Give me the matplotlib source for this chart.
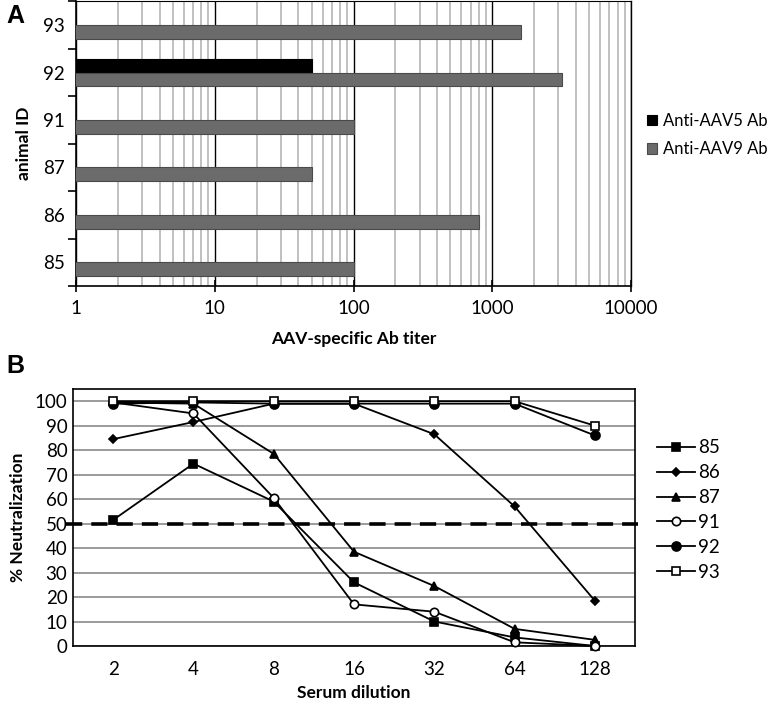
import matplotlib
matplotlib.use("Agg")
import matplotlib.pyplot as plt
import matplotlib.transforms as mtransforms
from matplotlib.ticker import LogLocator, NullFormatter
import numpy as np

plt.rcParams['font.family'] = ['Lato', 'DejaVu Sans']

# ---------- Panel A data ----------
animals = ["85", "86", "87", "91", "92", "93"]
aav5_titer = [0, 0, 0, 0, 50, 0]
aav9_titer = [100, 800, 50, 100, 3200, 1600]

# ---------- Panel B data ----------
dilutions = ["2", "4", "8", "16", "32", "64", "128"]
neut_85 = [51.5, 74.5, 59, 26, 10, 3.5, 0]
neut_86 = [84.5, 91.5, 99, 99, 86.5, 57, 18.5]
neut_87 = [99.5, 99, 78.5, 38.5, 24.5, 7, 2.5]
neut_91 = [99.5, 95, 60.5, 17, 14, 1.5, 0]
neut_92 = [99, 99.5, 99, 99, 99, 99, 86]
neut_93 = [100, 100, 100, 100, 100, 100, 90]

TICK = 13.5
LAB = 12.5
W, H = 771, 703

fig = plt.figure(figsize=(7.71, 7.03), dpi=100)

# ======== Panel A ========
axA = fig.add_axes([0.0986, 0.5932, 0.7198, 0.4048])
ypos = np.arange(len(animals))
h = 0.29
m5 = [v > 0 for v in aav5_titer]
axA.barh(ypos[m5] + h / 2, np.array(aav5_titer)[m5], height=h, left=0,
         color='black', edgecolor='black', linewidth=0.8, label='Anti-AAV5 Ab', zorder=3)
axA.barh(ypos - h / 2, aav9_titer, height=h, left=0,
         color='#6b6b6b', edgecolor='#4a4a4a', linewidth=0.8, label='Anti-AAV9 Ab', zorder=3)
axA.set_xscale('log')
axA.set_xlim(1, 10000)
axA.set_ylim(-0.5, len(animals) - 0.5)
axA.xaxis.set_minor_locator(LogLocator(base=10, subs=np.arange(2, 10), numticks=100))
axA.xaxis.set_minor_formatter(NullFormatter())
axA.set_xticks([1, 10, 100, 1000, 10000])
axA.set_xticklabels(["1", "10", "100", "1000", "10000"])
axA.grid(True, which='major', axis='x', color='black', linewidth=1.0, zorder=1)
axA.grid(True, which='minor', axis='x', color='#b5b5b5', linewidth=1.2, zorder=1)
axA.tick_params(axis='x', which='major', direction='inout', length=8, width=1.2, labelsize=TICK, pad=6)
axA.tick_params(axis='x', which='minor', length=0)
axA.set_yticks(ypos)
axA.set_yticklabels(animals)
axA.set_yticks(np.arange(-0.5, len(animals)), minor=True)
axA.tick_params(axis='y', which='major', length=0, labelsize=TICK, pad=8)
axA.tick_params(axis='y', which='minor', length=6, width=1.2, direction='out')
for s in axA.spines.values():
    s.set_color('black')
    s.set_linewidth(1.2)
axA.spines['right'].set_linewidth(1.0)
axA.spines['top'].set_linewidth(0.8)
axA.set_axisbelow(True)
axA.set_xlabel("AAV-specific Ab titer", fontsize=LAB, fontweight='bold', labelpad=10)
axA.set_ylabel("animal ID", fontsize=LAB, fontweight='bold', labelpad=8)
legA = axA.legend(loc='center left', bbox_to_anchor=(647 / W, 1 - 135 / H),
                  bbox_transform=fig.transFigure, borderpad=0, borderaxespad=0,
                  frameon=False, fontsize=12, handlelength=0.6, handleheight=0.6,
                  handletextpad=0.35, labelspacing=0.75)

fig.text(0.008, 0.977, "A", fontsize=18, fontweight='bold', va='center', ha='left',
         family='Liberation Sans')

# ======== Panel B ========
axB = fig.add_axes([0.0947, 0.0811, 0.7289, 0.3656])
x = np.arange(len(dilutions))
series = [
    ("85", neut_85, 's', 'black', 6),
    ("86", neut_86, 'D', 'black', 3.8),
    ("87", neut_87, '^', 'black', 6),
    ("91", neut_91, 'o', 'white', 6),
    ("92", neut_92, 'o', 'black', 6.5),
    ("93", neut_93, 's', 'white', 6),
]
for name, vals, mk, fc, ms in series:
    axB.plot(x, vals, color='black', linewidth=1.3, marker=mk, markersize=ms,
             markerfacecolor=fc, markeredgecolor='black', markeredgewidth=1.2,
             label=name, zorder=4, clip_on=False)
axB.set_xlim(-0.5, len(dilutions) - 0.5)
axB.set_ylim(0, 105)
axB.set_xticks(x)
axB.set_xticklabels(dilutions)
axB.set_yticks(np.arange(0, 101, 10))
axB.yaxis.grid(True, color='#8a8a8a', linewidth=1.2, zorder=1)
axB.set_axisbelow(True)
axB.tick_params(axis='both', length=0, labelsize=TICK)
axB.tick_params(axis='x', pad=11)
axB.tick_params(axis='y', pad=4)
for s in axB.spines.values():
    s.set_color('black')
    s.set_linewidth(1.2)
trans = mtransforms.blended_transform_factory(axB.transAxes, axB.transData)
axB.plot([-0.012, 1.005], [50, 50], transform=trans, color='black', linewidth=2.6,
         linestyle=(0, (4.5, 2.5)), clip_on=False, zorder=3)
axB.set_xlabel("Serum dilution", fontsize=LAB, fontweight='bold', labelpad=5)
axB.set_ylabel("% Neutralization", fontsize=LAB, fontweight='bold', labelpad=6)
legB = axB.legend(loc='center left', bbox_to_anchor=(657 / W, 1 - 510 / H),
                  bbox_transform=fig.transFigure, borderpad=0, borderaxespad=0,
                  frameon=False, fontsize=TICK, handlelength=2.0, handletextpad=0.2,
                  labelspacing=0.42)

fig.text(0.008, 0.479, "B", fontsize=18, fontweight='bold', va='center', ha='left',
         family='Liberation Sans')

fig.savefig("out.png", dpi=100)
